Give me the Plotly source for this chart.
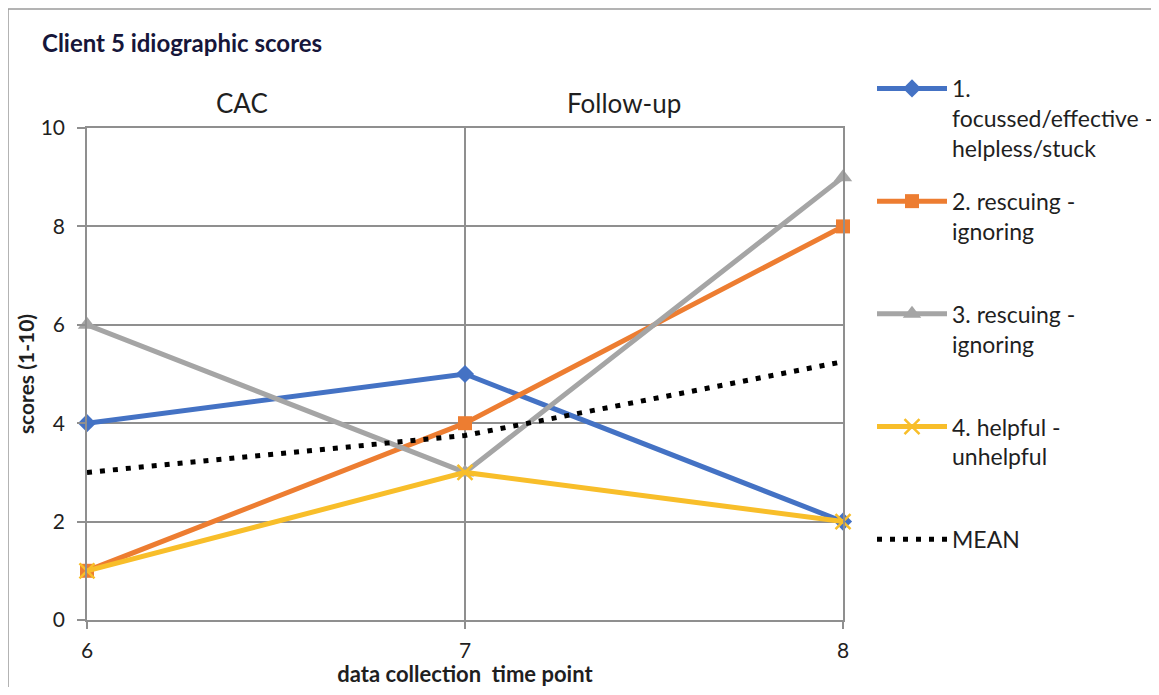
import plotly.graph_objects as go

# ---- data ----
time_points = [6, 7, 8]
s1_name = "1.<br>focussed/effective -<br>helpless/stuck"
s1_values = [4, 5, 2]
s2_name = "2. rescuing -<br>ignoring"
s2_values = [1, 4, 8]
s3_name = "3. rescuing -<br>ignoring"
s3_values = [6, 3, 9]
s4_name = "4. helpful -<br>unhelpful"
s4_values = [1, 3, 2]
mean_name = "MEAN"
mean_values = [3, 3.75, 5.25]
y_ticks = [0, 2, 4, 6, 8, 10]
phase_labels = ["CAC", "Follow-up"]
phase_x = [6.41, 7.42]

FONT = "Lato"
TXT = "#1f1f1f"
GRID = "#8f8f8f"

W, H = 1151, 679

fig = go.Figure()

series = [
    (s1_name, s1_values, "#4472C4", "diamond", 14),
    (s2_name, s2_values, "#ED7D31", "square", 14),
    (s3_name, s3_values, "#A5A5A5", "triangle-up", 16),
    (s4_name, s4_values, "#F8BE2A", "x-thin-open", 15),
]
for i, (name, vals, col, sym, size) in enumerate(series):
    disp = name if i == 0 else name + "<br>\u00a0"
    marker = dict(symbol=sym, size=size, color=col)
    if sym.endswith("open"):
        marker["line"] = dict(color=col, width=2.5)
    fig.add_trace(go.Scatter(
        x=time_points, y=vals, name=disp, mode="lines+markers",
        line=dict(color=col, width=5), marker=marker,
        legendgroup=f"g{i}", cliponaxis=False,
    ))

fig.add_trace(go.Scatter(
    x=time_points, y=mean_values, name=mean_name, mode="lines",
    line=dict(color="black", width=5, dash="5px,8px"),
    legendgroup="gm", cliponaxis=False,
))

for lab, xx in zip(phase_labels, phase_x):
    fig.add_annotation(x=xx, y=1.051, xref="x", yref="paper", text=lab,
                       showarrow=False, yanchor="middle",
                       font=dict(family=FONT, size=26, color=TXT))

fig.add_annotation(x=-0.062, y=1.173, xref="paper", yref="paper",
                   text="<b>Client 5 idiographic scores</b>", showarrow=False,
                   xanchor="left", yanchor="middle",
                   font=dict(family=FONT, size=24, color="#16163a"))

fig.add_shape(type="rect", xref="paper", yref="paper",
              x0=-0.1045, x1=1.410, y0=-0.2, y1=1.2419,
              line=dict(color="#9a9a9a", width=1.5), layer="below")

fig.update_layout(
    width=W, height=H,
    margin=dict(l=79, r=316, t=120, b=H - 120 - 492),
    paper_bgcolor="white", plot_bgcolor="white",
    font=dict(family=FONT, size=21, color=TXT),
    legend=dict(x=864 / W, y=1 - 59 / H, xref="container", yref="container",
                xanchor="left", yanchor="top",
                tracegroupgap=20, valign="top", itemwidth=70, maxheight=660,
                font=dict(family=FONT, size=23, color=TXT),
                bgcolor="rgba(0,0,0,0)"),
    showlegend=True,
)

fig.update_xaxes(
    range=[6, 8], tickvals=time_points, showgrid=True, gridcolor=GRID, gridwidth=1.5,
    showline=True, linecolor=GRID, linewidth=1.5, mirror=True,
    ticks="outside", ticklen=7, tickcolor=GRID, tickwidth=1.5,
    ticklabelstandoff=4, zeroline=False, automargin=False,
    title=dict(text="<b>data collection\u00a0\u00a0time point</b>", standoff=2,
               font=dict(family=FONT, size=22, color=TXT)),
)
fig.update_yaxes(
    range=[0, 10], tickvals=y_ticks, showgrid=True, gridcolor=GRID, gridwidth=1.5,
    showline=True, linecolor=GRID, linewidth=1.5, mirror=True,
    ticks="outside", ticklen=8, tickcolor=GRID, tickwidth=1.5,
    ticklabelstandoff=8, zeroline=False, automargin=False,
    title=dict(text="<b>scores (1-10)</b>", standoff=0,
               font=dict(family=FONT, size=21, color=TXT)),
)

fig.write_html("out.html")
